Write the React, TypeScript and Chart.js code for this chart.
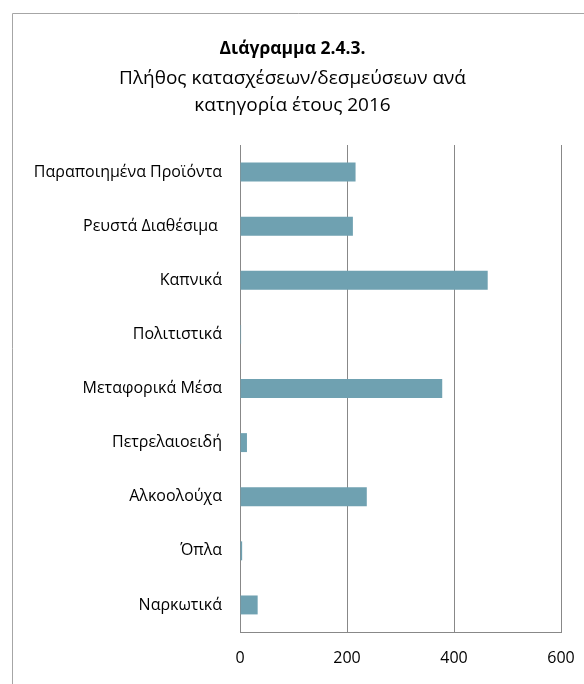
import React, { useEffect, useRef } from "react";
import { Chart, registerables } from "chart.js";

Chart.register(...registerables);

const categories = [
  "Παραποιημένα Προϊόντα",
  "Ρευστά Διαθέσιμα ",
  "Καπνικά",
  "Πολιτιστικά",
  "Μεταφορικά Μέσα",
  "Πετρελαιοειδή",
  "Αλκοολούχα",
  "Όπλα",
  "Ναρκωτικά",
];
const values = [216, 211, 463, 2, 378, 13, 237, 4, 33];
const titleText = "Διάγραμμα 2.4.3.";
const subtitleLines = ["Πλήθος κατασχέσεων/δεσμεύσεων ανά", "κατηγορία έτους 2016"];
const xTicks = [0, 200, 400, 600];

const FONT = "'Open Sans', 'Noto Sans', sans-serif";

const frame = {
  id: "frame",
  beforeDraw(chart: any) {
    const ctx = chart.ctx;
    ctx.save();
    ctx.fillStyle = "#ffffff";
    ctx.fillRect(0, 0, chart.width, chart.height);
    ctx.strokeStyle = "#a6a6a6";
    ctx.lineWidth = 1;
    ctx.beginPath();
    ctx.moveTo(12.5, chart.height);
    ctx.lineTo(12.5, 13.5);
    ctx.lineTo(chart.width, 13.5);
    ctx.stroke();
    ctx.restore();
  },
};

export default function App() {
  const ref = useRef<HTMLCanvasElement>(null);
  useEffect(() => {
    document.body.style.margin = "0";
    document.body.style.overflow = "hidden";
    const chart = new Chart(ref.current!, {
      type: "bar",
      data: {
        labels: categories,
        datasets: [
          {
            data: values,
            backgroundColor: "#6fa1b1",
            borderColor: "#a9c8d2",
            borderWidth: 0,
            barPercentage: 0.35,
            categoryPercentage: 1,
          },
        ],
      },
      options: {
        indexAxis: "y",
        animation: false,
        responsive: false,
        layout: { padding: { left: 24, right: 23, top: 0, bottom: 0 } },
        plugins: {
          legend: { display: false },
          tooltip: { enabled: false },
          title: {
            display: true,
            text: titleText,
            color: "#000",
            font: { family: FONT, size: 17.5, weight: "bold", lineHeight: "20px" },
            padding: { top: 39, bottom: 0 },
          },
          subtitle: {
            display: true,
            text: subtitleLines,
            color: "#000",
            font: { family: FONT, size: 19, weight: "normal", lineHeight: "27px" },
            padding: { top: 6, bottom: 26 },
          },
        },
        scales: {
          x: {
            min: 0,
            max: 600,
            afterBuildTicks(scale: any) {
              scale.ticks = xTicks.map((v) => ({ value: v }));
            },
            afterFit(scale: any) {
              scale.height = 52;
              scale.paddingLeft = 0;
              scale.paddingRight = 0;
            },
            grid: { color: "#888888", drawTicks: false, lineWidth: 1 },
            border: { color: "#888888" },
            ticks: {
              color: "#000",
              font: { family: FONT, size: 16 },
              padding: 17,
              maxRotation: 0,
            },
          },
          y: {
            afterFit(scale: any) {
              scale.width = 216;
              scale.paddingTop = 0;
              scale.paddingBottom = 0;
            },
            grid: { display: false, drawTicks: false },
            border: { color: "#888888" },
            ticks: {
              color: "#000",
              font: { family: FONT, size: 16 },
              padding: 18,
              autoSkip: false,
            },
          },
        },
      },
      plugins: [frame],
    });
    return () => chart.destroy();
  }, []);
  return (
    <div style={{ position: "absolute", left: 0, top: 0, width: 584, height: 684 }}>
      <canvas ref={ref} width={584} height={684} style={{ width: 584, height: 684, display: "block" }} />
    </div>
  );
}
